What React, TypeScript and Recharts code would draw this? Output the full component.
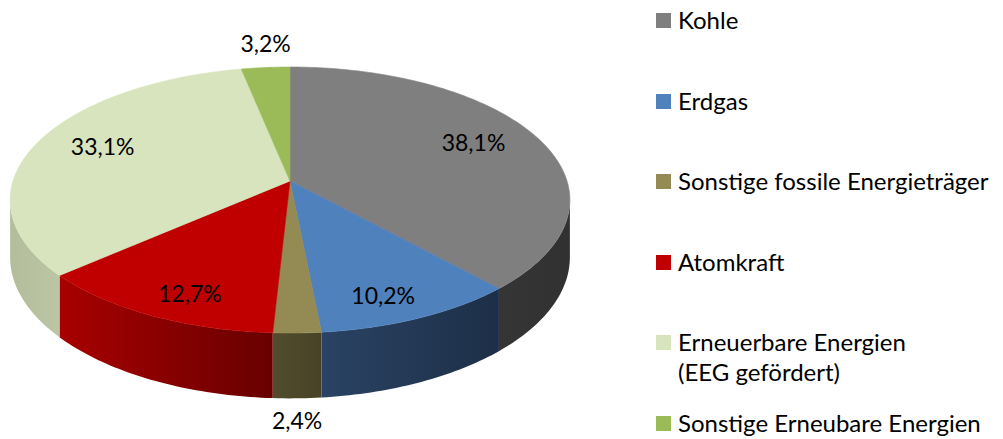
import React from 'react';
import { PieChart, Pie, Cell, Legend } from 'recharts';

// Energy mix shares (percent)
const categories = [
  'Kohle',
  'Erdgas',
  'Sonstige fossile Energieträger',
  'Atomkraft',
  'Erneuerbare Energien\n(EEG gefördert)',
  'Sonstige Erneubare Energien',
];
const shares = [38.1, 10.2, 2.4, 12.7, 33.1, 3.2];

const topColors = ['#7f7f7f', '#4f81bd', '#948a54', '#c00000', '#d7e4bd', '#9bbb59'];
const sideColors = [
  ['#353535', '#313131'],
  ['#2a4364', '#1d2f47'],
  ['#524c2e', '#484327'],
  ['#a80000', '#680000'],
  ['#b3bd9b', '#bcc6a5'],
  ['#6f8a3c', '#5d7532'],
];

const data = categories.map((name, i) => ({ name, value: shares[i] }));

const FONT = 'Lato, "Liberation Sans", sans-serif';
const RAD = Math.PI / 180;
const TILT = 0.4704; // vertical squash of the disc
const PERSP = 0.143; // perspective strength (front wider than back)
const DEPTH = 56;

// project a point of the disc (recharts angle a, radius fraction f) to the screen
const project = (cx: number, cy: number, r: number, a: number, f = 1, dy = 0) => {
  const sa = Math.sin(a * RAD);
  const ca = Math.cos(a * RAD);
  const s = 1 / (1 + PERSP * f * sa);
  return [cx + r * f * ca * s, cy - r * TILT * f * sa * s + dy * s];
};

const rim = (cx: number, cy: number, r: number, a1: number, a2: number, dy = 0) => {
  const n = Math.max(2, Math.ceil(Math.abs(a2 - a1)));
  const pts: string[] = [];
  for (let k = 0; k <= n; k++) {
    const [x, y] = project(cx, cy, r, a1 + ((a2 - a1) * k) / n, 1, dy);
    pts.push(`${x.toFixed(2)},${y.toFixed(2)}`);
  }
  return pts;
};

const TopSlice = (p: any) => {
  const { cx, cy, outerRadius, startAngle, endAngle, fill } = p;
  const d = `M${cx},${cy} L${rim(cx, cy, outerRadius, startAngle, endAngle).join(' L')} Z`;
  return <path d={d} fill={fill} stroke={fill} strokeWidth={0.6} />;
};

const SIL = Math.asin(PERSP) / RAD;

const SideSlice = (p: any) => {
  const { cx, cy, outerRadius, startAngle, endAngle, index } = p;
  // only the front of the rim, between the silhouette points, is visible
  const lo = Math.max(Math.min(startAngle, endAngle), -180 + SIL);
  const hi = Math.min(Math.max(startAngle, endAngle), -SIL);
  if (hi <= lo) return <g />;
  const top = rim(cx, cy, outerRadius, lo, hi);
  const bottom = rim(cx, cy, outerRadius, hi, lo, DEPTH);
  const d = `M${top.join(' L')} L${bottom.join(' L')} Z`;
  return <path d={d} fill={`url(#side-${index})`} stroke="none" />;
};

const renderLabel = (p: any) => {
  const { cx, cy, outerRadius, midAngle, value } = p;
  let x: number;
  let y: number;
  if (value < 5) {
    const front = Math.sin(midAngle * RAD) < 0;
    const [px, py] = project(cx, cy, outerRadius, midAngle, 1, front ? DEPTH : 0);
    x = px;
    y = front ? py + 22 : py - 25;
  } else {
    const sa = Math.sin(midAngle * RAD);
    const ca = Math.cos(midAngle * RAD);
    const s = 1 / (1 + PERSP * 0.8 * sa);
    x = cx + outerRadius * 0.74 * ca * s;
    y = cy - outerRadius * TILT * 0.86 * sa * s;
  }
  return (
    <text x={x} y={y} textAnchor="middle" dominantBaseline="central" fill="#000" fontFamily={FONT} fontSize={23}>
      {`${value.toFixed(1).replace('.', ',')}%`}
    </text>
  );
};

const renderLegend = () => (
  <div style={{ fontFamily: FONT, fontSize: 24, color: '#000' }}>
    {categories.map((name, i) => (
      <div key={name} style={{ height: 80.5, display: 'flex', alignItems: 'flex-start' }}>
        <span style={{ width: 15, height: 15, background: topColors[i], marginTop: 8, marginRight: 7, flex: 'none' }} />
        <span style={{ whiteSpace: 'pre-line', lineHeight: '30px' }}>{name}</span>
      </div>
    ))}
  </div>
);

export default function App() {
  return (
    <div style={{ position: 'absolute', left: 0, top: 0, width: 1003, height: 439, background: '#fff' }}>
      <PieChart width={1003} height={439} margin={{ top: 0, right: 0, bottom: 0, left: 0 }}>
        <defs>
          {sideColors.map((c, i) => (
            <linearGradient key={i} id={`side-${i}`} x1="0" y1="0" x2="1" y2="0">
              <stop offset="0%" stopColor={c[0]} />
              <stop offset="100%" stopColor={c[1]} />
            </linearGradient>
          ))}
        </defs>
        <Pie
          data={data}
          dataKey="value"
          nameKey="name"
          cx={290}
          cy={181}
          outerRadius={277}
          startAngle={90}
          endAngle={-270}
          shape={SideSlice}
          legendType="none"
          isAnimationActive={false}
        />
        <Pie
          data={data}
          dataKey="value"
          nameKey="name"
          cx={290}
          cy={181}
          outerRadius={277}
          startAngle={90}
          endAngle={-270}
          shape={TopSlice}
          label={renderLabel}
          labelLine={false}
          isAnimationActive={false}
        >
          {data.map((d, i) => (
            <Cell key={d.name} fill={topColors[i]} />
          ))}
        </Pie>
        <Legend
          layout="vertical"
          align="right"
          verticalAlign="top"
          content={renderLegend}
          wrapperStyle={{ left: 656, top: 5, width: 347 }}
        />
      </PieChart>
    </div>
  );
}
